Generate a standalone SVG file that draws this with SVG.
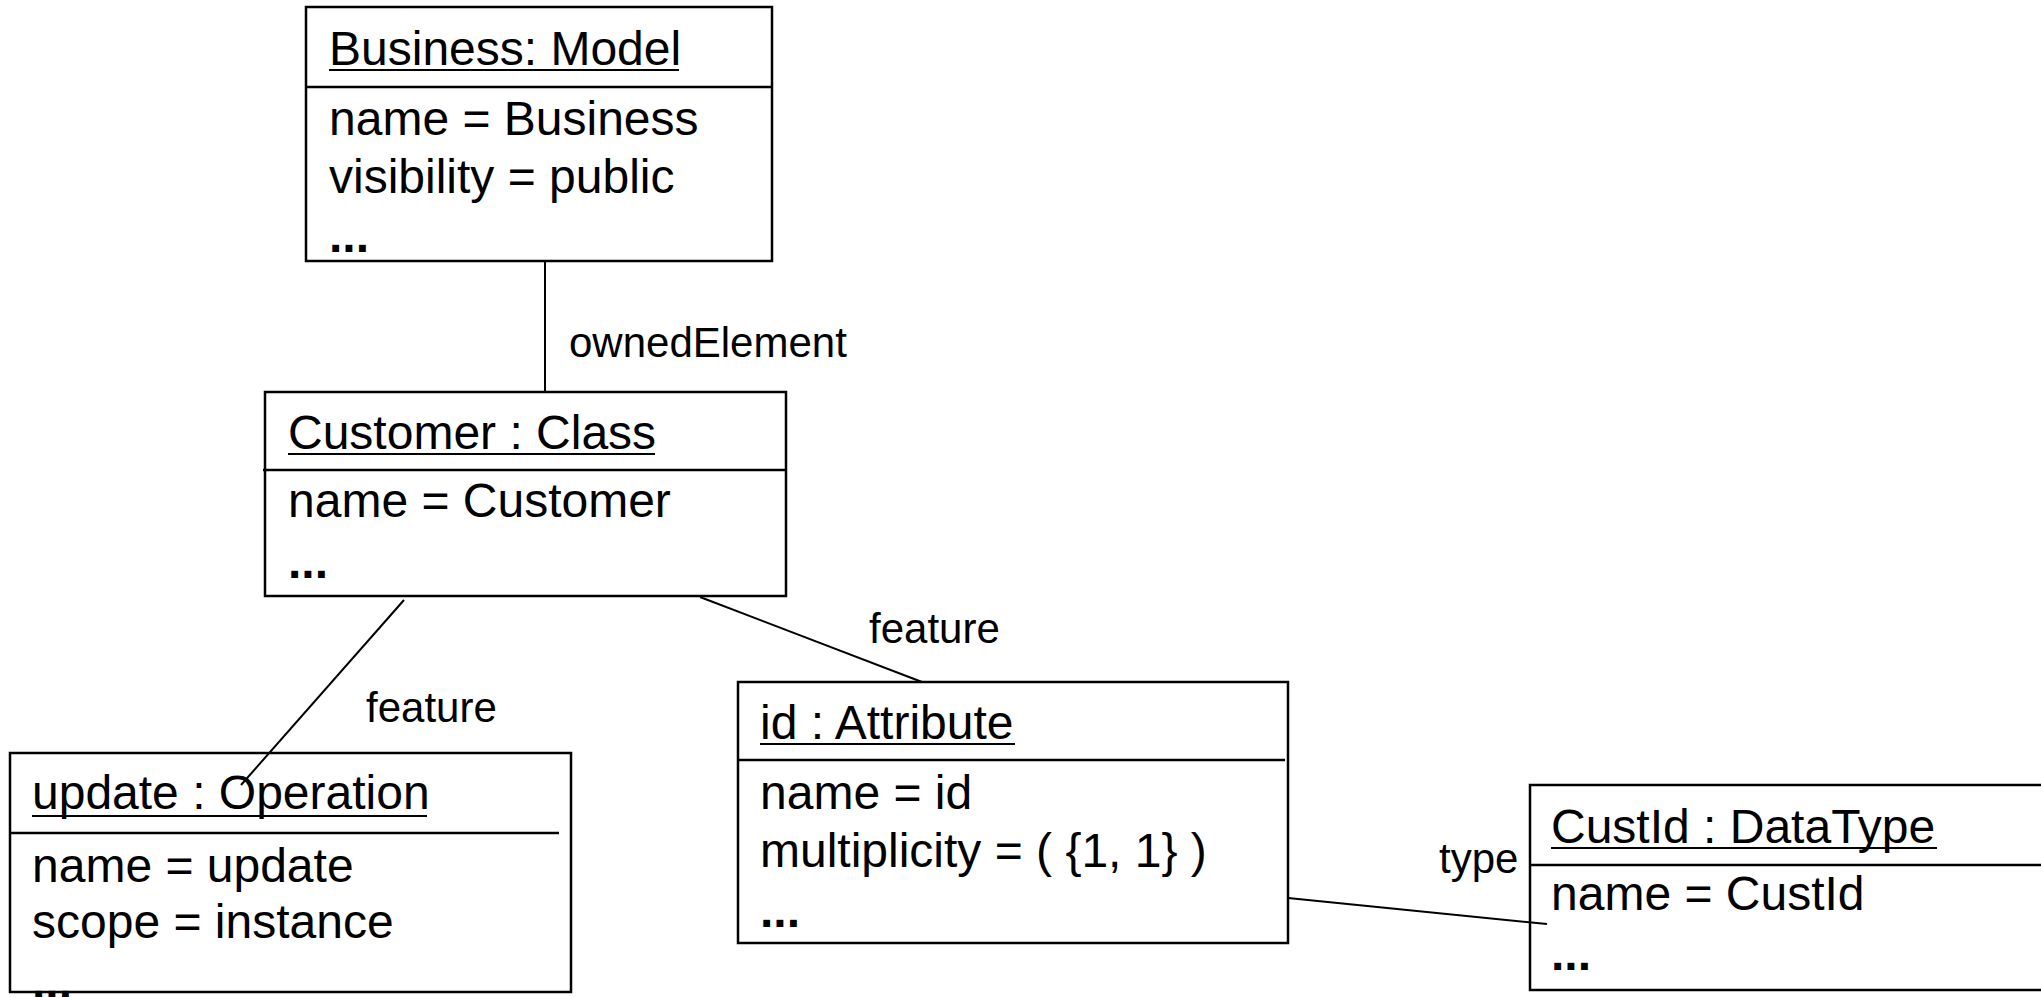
<svg xmlns="http://www.w3.org/2000/svg" width="2041" height="997" viewBox="0 0 2041 997">
<style>
.box{fill:#fff;stroke:#000;stroke-width:2.5}
.div{stroke:#000;stroke-width:2.5}
.ul{stroke:#000;stroke-width:2}
.t{font-family:"Liberation Sans",Arial,sans-serif;font-size:48px;fill:#000}
.dots{font-weight:bold}
.lbl{font-family:"Liberation Sans",Arial,sans-serif;font-size:42px;fill:#000}
.conn line{stroke:#000;stroke-width:2}
</style>
<rect width="2041" height="997" fill="#fff"/>
<g id="business">
<rect class="box" x="306" y="7" width="466" height="254"/>
<line class="div" x1="306" y1="87" x2="772" y2="87"/>
<text class="t" x="329" y="65">Business: Model</text>
<line class="ul" x1="329" y1="70" x2="679" y2="70"/>
<text class="t" x="329" y="135">name = Business</text>
<text class="t" x="329" y="193">visibility = public</text>
<text class="t dots" x="329" y="252">...</text>
</g>
<g id="customer">
<rect class="box" x="265" y="392" width="521" height="204"/>
<line class="div" x1="263" y1="470" x2="786" y2="470"/>
<text class="t" x="288" y="449">Customer : Class</text>
<line class="ul" x1="288" y1="454" x2="655" y2="454"/>
<text class="t" x="288" y="517">name = Customer</text>
<text class="t dots" x="288" y="578">...</text>
</g>
<g id="update">
<rect class="box" x="10" y="753" width="561" height="239"/>
<line class="div" x1="10" y1="833" x2="559" y2="833"/>
<text class="t" x="32" y="809">update : Operation</text>
<line class="ul" x1="32" y1="816" x2="427" y2="816"/>
<text class="t" x="32" y="882">name = update</text>
<text class="t" x="32" y="938">scope = instance</text>
<text class="t dots" x="32" y="998">...</text>
</g>
<g id="attribute">
<rect class="box" x="738" y="682" width="550" height="261"/>
<line class="div" x1="738" y1="760" x2="1285" y2="760"/>
<text class="t" x="760" y="739">id : Attribute</text>
<line class="ul" x1="760" y1="744" x2="1015" y2="744"/>
<text class="t" x="760" y="809">name = id</text>
<text class="t" x="760" y="867">multiplicity = ( {1, 1} )</text>
<text class="t dots" x="760" y="927">...</text>
</g>
<g id="custid">
<rect class="box" x="1530" y="785" width="600" height="205"/>
<line class="div" x1="1530" y1="865" x2="2041" y2="865"/>
<text class="t" x="1551" y="843">CustId : DataType</text>
<line class="ul" x1="1551" y1="848" x2="1937" y2="848"/>
<text class="t" x="1551" y="910">name = CustId</text>
<text class="t dots" x="1551" y="970">...</text>
</g>
<g id="connectors" class="conn">
<line x1="545" y1="261" x2="545" y2="392"/>
<line x1="404" y1="600" x2="241" y2="785"/>
<line x1="700" y1="597" x2="922" y2="682"/>
<line x1="1288" y1="898" x2="1547" y2="924"/>
</g>
<g id="labels">
<text class="lbl" x="569" y="357">ownedElement</text>
<text class="lbl" x="366" y="722">feature</text>
<text class="lbl" x="869" y="643">feature</text>
<text class="lbl" x="1439" y="873">type</text>
</g>
</svg>
